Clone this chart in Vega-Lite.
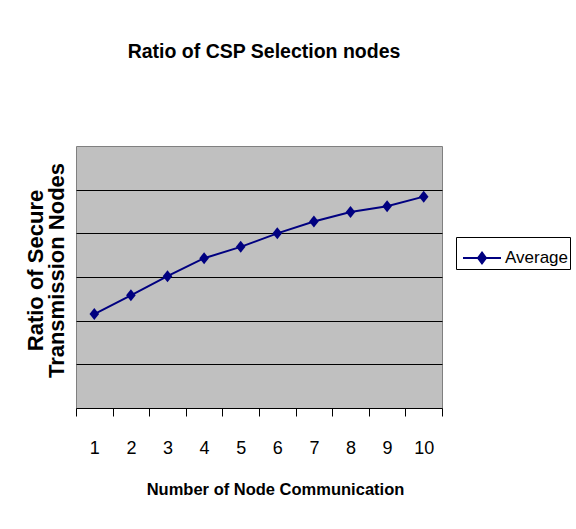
{
  "$schema": "https://vega.github.io/schema/vega-lite/v6.json",
  "width": 366,
  "height": 262,
  "autosize": {"type": "none"},
  "padding": {"left": 76, "top": 146, "right": 134, "bottom": 121},
  "background": "white",
  "title": {
    "text": "Ratio of CSP Selection nodes",
    "font": "Liberation Sans",
    "fontSize": 19.5,
    "fontWeight": "bold",
    "color": "black",
    "anchor": "middle",
    "offset": 84,
    "dx": 5
  },
  "config": {
    "view": {"fill": "#c0c0c0", "stroke": "#808080", "strokeWidth": 1}
  },
  "data": {
    "values": [
      {"node": 1, "ratio": 0.43, "series": "Average"},
      {"node": 2, "ratio": 0.516, "series": "Average"},
      {"node": 3, "ratio": 0.604, "series": "Average"},
      {"node": 4, "ratio": 0.686, "series": "Average"},
      {"node": 5, "ratio": 0.738, "series": "Average"},
      {"node": 6, "ratio": 0.8, "series": "Average"},
      {"node": 7, "ratio": 0.854, "series": "Average"},
      {"node": 8, "ratio": 0.898, "series": "Average"},
      {"node": 9, "ratio": 0.924, "series": "Average"},
      {"node": 10, "ratio": 0.968, "series": "Average"}
    ]
  },
  "encoding": {
    "x": {
      "field": "node",
      "type": "quantitative",
      "scale": {"domain": [0.5, 10.5], "nice": false, "zero": false},
      "axis": {
        "title": "Number of Node Communication",
        "titleFont": "Liberation Sans",
        "titleFontSize": 16.5,
        "titleFontWeight": "bold",
        "titleColor": "black",
        "titlePadding": 24,
        "titleX": 199,
        "values": [0.5, 1, 1.5, 2, 2.5, 3, 3.5, 4, 4.5, 5, 5.5, 6, 6.5, 7, 7.5, 8, 8.5, 9, 9.5, 10, 10.5],
        "labelExpr": "datum.value % 1 === 0 ? toString(datum.value) : ''",
        "labelOverlap": false,
        "labelFlush": false,
        "labelFont": "Liberation Sans",
        "labelFontSize": 18,
        "labelColor": "black",
        "labelPadding": 23,
        "tickSize": 8,
        "tickColor": "black",
        "tickOpacity": {"condition": {"test": "datum.value % 1 === 0", "value": 0}, "value": 1},
        "domainColor": "black",
        "grid": false
      }
    },
    "y": {
      "field": "ratio",
      "type": "quantitative",
      "scale": {"domain": [0, 1.2], "nice": false},
      "axis": {
        "title": ["Ratio of Secure", "Transmission Nodes"],
        "titleFont": "Liberation Sans",
        "titleFontSize": 22,
        "titleFontWeight": "bold",
        "titleColor": "black",
        "titleLineHeight": 21,
        "titlePadding": 8,
        "titleY": 124,
        "labels": false,
        "ticks": false,
        "domain": false,
        "grid": true,
        "gridColor": "black",
        "gridOpacity": 1,
        "gridWidth": 1,
        "values": [0.2, 0.4, 0.6, 0.8, 1.0]
      }
    }
  },
  "layer": [
    {
      "mark": {"type": "line", "strokeWidth": 2},
      "encoding": {
        "color": {
          "field": "series",
          "type": "nominal",
          "scale": {"range": ["#000080"]},
          "legend": {
            "title": null,
            "orient": "none",
            "legendX": 380,
            "legendY": 91,
            "strokeColor": "black",
            "fillColor": "white",
            "padding": 1,
            "symbolOffset": 5,
            "labelOffset": 3,
            "labelFont": "Liberation Sans",
            "labelFontSize": 17,
            "labelColor": "black",
            "symbolType": "M-1,0H1M0,-0.28L0.21,0L0,0.28L-0.21,0Z",
            "symbolSize": 1444,
            "symbolStrokeWidth": 2,
            "symbolFillColor": "#000080",
            "symbolStrokeColor": "#000080"
          }
        }
      }
    },
    {
      "mark": {
        "type": "point",
        "shape": "M0,-1L0.8,0L0,1L-0.8,0Z",
        "filled": true,
        "size": 144,
        "opacity": 1,
        "color": "#000080"
      }
    }
  ]
}
